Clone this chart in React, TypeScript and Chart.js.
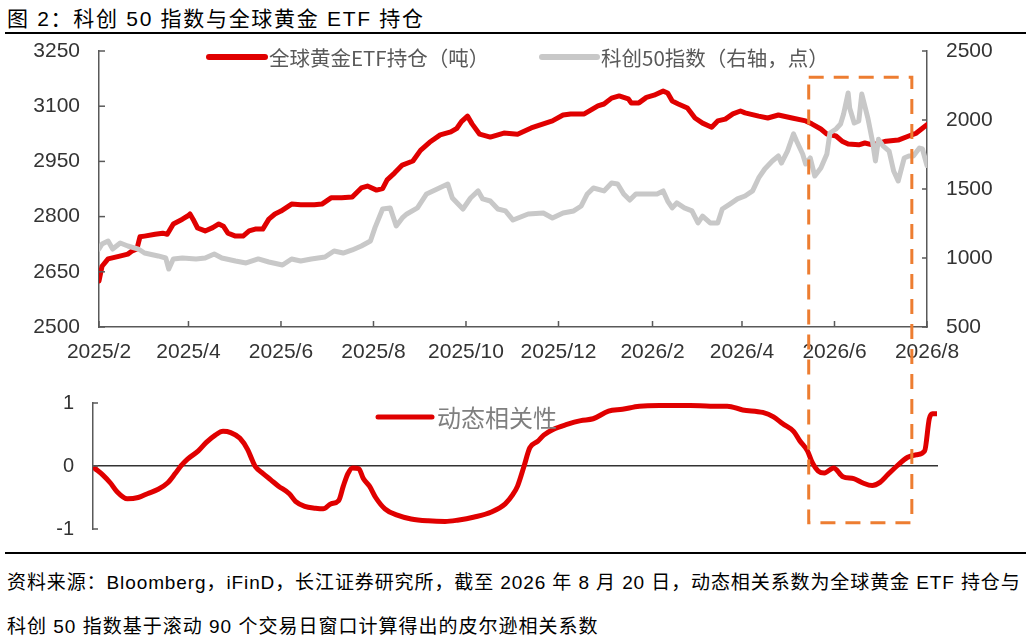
import React, { useEffect, useRef } from 'react';
import { Chart, registerables } from 'chart.js';

Chart.register(...registerables);

// ---------- text ----------
const TITLE = '图 2：科创 50 指数与全球黄金 ETF 持仓';
const NOTE_1 = '资料来源：Bloomberg，iFinD，长江证券研究所，截至 2026 年 8 月 20 日，动态相关系数为全球黄金 ETF 持仓与';
const NOTE_2 = '科创 50 指数基于滚动 90 个交易日窗口计算得出的皮尔逊相关系数';
const GOLD_LABEL = '全球黄金ETF持仓（吨）';
const KC50_LABEL = '科创50指数（右轴，点）';
const CORR_LABEL = '动态相关性';

// ---------- axis ticks ----------
// days are counted from 2025-02-20; the axis ticks fall on the 20th of every other month
const xTickLabels = ['2025/2', '2025/4', '2025/6', '2025/8', '2025/10', '2025/12', '2026/2', '2026/4', '2026/6', '2026/8'];
const leftAxisRange = [2500, 3250];
const leftAxisStep = 150;
const rightAxisRange = [500, 2500];
const rightAxisStep = 500;
const corrAxisRange = [-1, 1];

// ---------- series: global gold ETF holdings (tonnes) ----------
const goldDay = [
  0, 2, 6, 13, 19, 22, 25, 27, 30, 37, 42, 45, 49, 55, 59, 60, 62, 65, 70, 75,
  79, 82, 85, 90, 95, 99, 103, 108, 112, 116, 120, 127, 133, 142, 147, 153, 160, 167, 173, 177,
  183, 187, 190, 195, 200, 207, 212, 218, 225, 232, 236, 239, 243, 246, 251, 258, 267, 276, 285, 293,
  299, 306, 311, 320, 329, 333, 338, 343, 349, 351, 356, 361, 366, 372, 375, 378, 382, 388, 393, 398,
  404, 408, 413, 418, 423, 426, 435, 441, 448, 457, 466, 470, 476, 480, 486, 490, 494, 501, 505, 510,
  519, 527, 534, 539, 543, 546,
];
const goldTonnes = [
  2625, 2665, 2685, 2692, 2698, 2707, 2712, 2745, 2747, 2752, 2755, 2752, 2780, 2793, 2803, 2807, 2793, 2769, 2761, 2770,
  2780, 2774, 2755, 2747, 2747, 2761, 2766, 2766, 2793, 2807, 2815, 2834, 2832, 2832, 2834, 2851, 2851, 2853, 2878, 2883,
  2872, 2876, 2900, 2919, 2940, 2951, 2980, 3002, 3022, 3030, 3040, 3058, 3073, 3052, 3024, 3016, 3027, 3024, 3041, 3052,
  3060, 3076, 3079, 3079, 3101, 3106, 3122, 3128, 3120, 3109, 3109, 3124, 3130, 3141, 3136, 3114, 3106, 3095, 3068, 3054,
  3043, 3060, 3065, 3079, 3087, 3082, 3073, 3068, 3076, 3068, 3060, 3052, 3038, 3024, 3019, 3005, 2997, 2995, 3000, 2995,
  3005, 3008, 3019, 3027, 3040, 3050,
];

// ---------- series: STAR 50 index (points, right axis) ----------
const kc50Day = [
  0, 2, 6, 9, 14, 19, 26, 30, 39, 44, 46, 49, 55, 64, 70, 76, 81, 90, 97, 105,
  112, 121, 127, 133, 140, 149, 155, 161, 167, 173, 179, 182, 187, 192, 196, 200, 203, 210, 216, 223,
  230, 233, 240, 245, 250, 253, 258, 263, 268, 273, 283, 293, 299, 306, 313, 318, 322, 326, 333, 338,
  342, 346, 350, 354, 361, 368, 372, 375, 378, 381, 386, 391, 395, 398, 403, 408, 411, 416, 421, 426,
  431, 435, 439, 444, 448, 450, 454, 458, 460, 464, 466, 469, 472, 476, 480, 482, 486, 489, 491, 494,
  495, 498, 501, 503, 507, 510, 512, 514, 517, 521, 524, 527, 531, 534, 537, 541, 543, 546,
];
const kc50Points = [
  1065, 1102, 1123, 1065, 1109, 1087, 1065, 1036, 1015, 1000, 920, 993, 1000, 993, 1000, 1029, 1000, 978, 964, 993,
  971, 949, 993, 978, 993, 1007, 1051, 1036, 1058, 1087, 1123, 1220, 1355, 1363, 1232, 1290, 1319, 1363, 1464, 1500,
  1536, 1435, 1355, 1435, 1486, 1428, 1413, 1355, 1341, 1275, 1319, 1326, 1290, 1326, 1341, 1377, 1464, 1507, 1486, 1543,
  1536, 1464, 1420, 1464, 1464, 1464, 1486, 1413, 1363, 1399, 1363, 1341, 1254, 1304, 1254, 1254, 1355, 1391, 1428, 1449,
  1486, 1580, 1645, 1703, 1739, 1688, 1775, 1899, 1848, 1754, 1681, 1725, 1594, 1652, 1754, 1906, 1935, 1971, 2043, 2196,
  2087, 1978, 1993, 2188, 2014, 1848, 1703, 1860, 1812, 1775, 1630, 1558, 1725, 1739, 1739, 1797, 1790, 1670,
];

// ---------- series: 90-day rolling correlation ----------
const corrDay = [
  0, 5, 10, 14, 21, 28, 34, 41, 47, 52, 56, 60, 67, 72, 78, 83, 88, 94, 99, 102,
  104, 109, 114, 119, 126, 130, 136, 143, 148, 153, 158, 161, 164, 167, 171, 174, 178, 182, 188, 196,
  205, 216, 227, 235, 246, 257, 266, 271, 274, 278, 282, 287, 291, 297, 306, 315, 323, 333, 342, 353,
  366, 386, 399, 410, 420, 433, 440, 446, 453, 457, 462, 465, 469, 473, 479, 485, 492, 498, 504, 509,
  514, 520, 527, 533, 538, 541, 543, 546,
];
const corrValue = [
  -0.04, -0.14, -0.27, -0.4, -0.52, -0.5, -0.44, -0.37, -0.27, -0.12, 0.01, 0.11, 0.24, 0.37, 0.49, 0.55, 0.53, 0.44, 0.26, 0.09,
  -0.01, -0.12, -0.22, -0.32, -0.44, -0.56, -0.64, -0.67, -0.68, -0.6, -0.55, -0.32, -0.12, -0.03, -0.04, -0.2, -0.32, -0.5, -0.68, -0.78,
  -0.84, -0.87, -0.88, -0.86, -0.81, -0.73, -0.6, -0.45, -0.32, -0.02, 0.29, 0.39, 0.49, 0.58, 0.66, 0.72, 0.75, 0.87, 0.9, 0.95,
  0.96, 0.96, 0.95, 0.95, 0.89, 0.85, 0.78, 0.67, 0.55, 0.4, 0.24, 0.06, -0.08, -0.11, -0.03, -0.17, -0.2, -0.27, -0.31, -0.26,
  -0.14, 0.0, 0.14, 0.18, 0.24, 0.75, 0.83, 0.83,
];

// ---------- highlighted window (dashed box) ----------
const highlightDays = [468, 536];
const highlightTopPoints = 2310; // right-axis value of the box top
const highlightBottomCorr = -0.9; // correlation-axis value of the box bottom

// ---------- styles ----------
const RED = '#E00000';
const GRAY = '#C8C8C8';
const ORANGE = '#ED7D31';
const AXIS = '#595959';
const TICK_TEXT = '#333333';
const LATIN = "'Liberation Sans', Arial, 'Noto Sans CJK SC', sans-serif";
const CJK = "'Noto Sans CJK SC', 'Liberation Sans', sans-serif";

const START_UTC = Date.UTC(2025, 1, 20);
function dayOfLabel(label: string): number {
  const [y, m] = label.split('/').map(Number);
  return Math.round((Date.UTC(y, m - 1, 20) - START_UTC) / 86400000);
}
const xTickDays = xTickLabels.map(dayOfLabel);
const lastDay = xTickDays[xTickDays.length - 1];

function pts(xs: number[], ys: number[]) {
  return xs.map((x, i) => ({ x, y: ys[i] }));
}

const plainNumber = (v: any) => String(v);

const inwardTicks = {
  id: 'inwardTicks',
  afterDraw(chart: any, _args: any, opts: any) {
    const ctx = chart.ctx;
    ctx.save();
    ctx.strokeStyle = opts.color;
    ctx.lineWidth = opts.width;
    const lengths = opts.lengths || {};
    Object.keys(lengths).forEach((id) => {
      const s = chart.scales[id];
      const len = lengths[id];
      if (!s) return;
      s.ticks.forEach((t: any) => {
        const p = s.getPixelForValue(t.value);
        ctx.beginPath();
        if (s.isHorizontal()) {
          ctx.moveTo(p, s.top);
          ctx.lineTo(p, s.top - len);
        } else if (s.position === 'left') {
          ctx.moveTo(s.right, p);
          ctx.lineTo(s.right + len, p);
        } else {
          ctx.moveTo(s.left, p);
          ctx.lineTo(s.left - len, p);
        }
        ctx.stroke();
      });
    });
    ctx.restore();
  },
};

const lineLegend = {
  id: 'lineLegend',
  afterDraw(chart: any, _args: any, opts: any) {
    const ctx = chart.ctx;
    ctx.save();
    (opts.items || []).forEach((it: any) => {
      const ds = chart.data.datasets[it.dataset];
      ctx.strokeStyle = ds.borderColor;
      ctx.lineWidth = it.lineWidth;
      ctx.lineCap = 'round';
      ctx.beginPath();
      ctx.moveTo(it.x, it.y);
      ctx.lineTo(it.x + it.length, it.y);
      ctx.stroke();
      ctx.fillStyle = opts.color;
      ctx.font = `${opts.size}px ${CJK}`;
      ctx.textBaseline = 'middle';
      ctx.textAlign = 'left';
      ctx.fillText(ds.label, it.x + it.length + it.gap, it.y + 1);
    });
    ctx.restore();
  },
};

export default function App() {
  const topRef = useRef<HTMLCanvasElement>(null);
  const bottomRef = useRef<HTMLCanvasElement>(null);

  useEffect(() => {
    if (!topRef.current || !bottomRef.current) return;
    const tickFont = { family: LATIN, size: 21 };

    const top = new Chart(topRef.current, {
      type: 'line',
      data: {
        datasets: [
          {
            label: GOLD_LABEL,
            data: pts(goldDay, goldTonnes),
            borderColor: RED,
            borderWidth: 5,
            yAxisID: 'y',
            order: 1,
          },
          {
            label: KC50_LABEL,
            data: pts(kc50Day, kc50Points),
            borderColor: GRAY,
            borderWidth: 5,
            yAxisID: 'y1',
            order: 0,
          },
        ],
      },
      options: {
        responsive: false,
        animation: false,
        events: [],
        layout: { padding: { top: 51, left: 0, right: 0, bottom: 0 } },
        elements: {
          point: { radius: 0 },
          line: { tension: 0, borderJoinStyle: 'round', borderCapStyle: 'round' },
        },
        plugins: {
          legend: { display: false },
          tooltip: { enabled: false },
          lineLegend: {
            color: '#595959',
            size: 20.5,
            items: [
              { dataset: 0, x: 209, y: 57, length: 56, gap: 4, lineWidth: 6 },
              { dataset: 1, x: 542, y: 57, length: 55, gap: 4, lineWidth: 6 },
            ],
          },
          inwardTicks: { color: AXIS, width: 1.5, lengths: { x: 6, y: 6, y1: 5 } },
        } as any,
        scales: {
          x: {
            type: 'linear',
            min: 0,
            max: lastDay,
            afterBuildTicks: (s: any) => {
              s.ticks = xTickDays.map((v) => ({ value: v }));
            },
            afterFit: (s: any) => {
              s.height = 53;
            },
            ticks: {
              callback: (_v: any, i: number) => xTickLabels[i],
              autoSkip: false,
              maxRotation: 0,
              minRotation: 0,
              padding: 13,
              font: tickFont,
              color: TICK_TEXT,
            },
            grid: { display: false, drawTicks: false },
            border: { display: true, color: AXIS, width: 1.5 },
          },
          y: {
            position: 'left',
            min: leftAxisRange[0],
            max: leftAxisRange[1],
            afterFit: (s: any) => {
              s.width = 99;
            },
            ticks: { stepSize: leftAxisStep, padding: 19, font: tickFont, color: TICK_TEXT, callback: plainNumber },
            grid: { display: false, drawTicks: false },
            border: { display: true, color: AXIS, width: 1.5 },
          },
          y1: {
            position: 'right',
            min: rightAxisRange[0],
            max: rightAxisRange[1],
            afterFit: (s: any) => {
              s.width = 99;
            },
            ticks: { stepSize: rightAxisStep, padding: 19, font: tickFont, color: TICK_TEXT, callback: plainNumber },
            grid: { display: false, drawTicks: false },
            border: { display: true, color: AXIS, width: 1.5 },
          },
        } as any,
      },
      plugins: [lineLegend, inwardTicks],
    } as any);

    const highlightBox = {
      id: 'highlightBox',
      afterDraw(chart: any) {
        const ctx = chart.ctx;
        const x1 = top.scales.x.getPixelForValue(highlightDays[0]);
        const x2 = top.scales.x.getPixelForValue(highlightDays[1]);
        const y1 = top.scales.y1.getPixelForValue(highlightTopPoints);
        const y2 = chart.scales.y.getPixelForValue(highlightBottomCorr);
        ctx.save();
        ctx.strokeStyle = ORANGE;
        ctx.lineWidth = 3;
        ctx.setLineDash([15, 10]);
        ctx.strokeRect(x1, y1, x2 - x1, y2 - y1);
        ctx.restore();
      },
    };

    const bottom = new Chart(bottomRef.current, {
      type: 'line',
      data: {
        datasets: [
          {
            label: CORR_LABEL,
            data: pts(corrDay, corrValue),
            borderColor: RED,
            borderWidth: 5,
            cubicInterpolationMode: 'monotone',
          },
        ],
      },
      options: {
        responsive: false,
        animation: false,
        events: [],
        layout: { padding: { top: 403, left: 0, right: 89, bottom: 26 } },
        elements: {
          point: { radius: 0 },
          line: { borderJoinStyle: 'round', borderCapStyle: 'round' },
        },
        plugins: {
          legend: { display: false },
          tooltip: { enabled: false },
          lineLegend: {
            color: '#7F7F7F',
            size: 24,
            items: [{ dataset: 0, x: 378, y: 417, length: 54, gap: 5, lineWidth: 5 }],
          },
          inwardTicks: { color: AXIS, width: 1.5, lengths: { y: 5 } },
        } as any,
        scales: {
          x: {
            type: 'linear',
            min: -1.3,
            max: lastDay,
            position: { y: 0 },
            ticks: { display: false },
            grid: { display: false, drawTicks: false },
            border: { display: true, color: '#333333', width: 1.5 },
          },
          y: {
            position: 'left',
            min: corrAxisRange[0],
            max: corrAxisRange[1],
            afterFit: (s: any) => {
              s.width = 93;
            },
            ticks: { stepSize: 1, padding: 19, font: { family: LATIN, size: 20 }, color: TICK_TEXT, callback: plainNumber },
            grid: { display: false, drawTicks: false },
            border: { display: true, color: AXIS, width: 1.5 },
          },
        } as any,
      },
      plugins: [lineLegend, inwardTicks, highlightBox],
    } as any);

    return () => {
      bottom.destroy();
      top.destroy();
    };
  }, []);

  const ruleStyle = (topPx: number): React.CSSProperties => ({
    position: 'absolute',
    left: 5,
    top: topPx,
    width: 1021,
    height: 2,
    background: '#000',
  });

  return (
    <div style={{ position: 'absolute', left: 0, top: 0, width: 1026, height: 643, background: '#fff', overflow: 'hidden' }}>
      <div
        style={{
          position: 'absolute',
          left: 7,
          top: 6,
          fontFamily: LATIN,
          fontSize: 21,
          lineHeight: '26px',
          letterSpacing: '1.7px',
          whiteSpace: 'nowrap',
          color: '#000',
        }}
      >
        {TITLE}
      </div>
      <div style={ruleStyle(32)} />
      <canvas ref={topRef} width={1026} height={380} style={{ position: 'absolute', left: 0, top: 0, display: 'block' }} />
      <canvas
        ref={bottomRef}
        width={1026}
        height={560}
        style={{ position: 'absolute', left: 0, top: 0, display: 'block', pointerEvents: 'none' }}
      />
      <div style={ruleStyle(552)} />
      <div
        style={{
          position: 'absolute',
          left: 7,
          top: 571,
          fontFamily: LATIN,
          fontSize: 19,
          lineHeight: '24px',
          letterSpacing: '0.9px',
          whiteSpace: 'nowrap',
          color: '#000',
        }}
      >
        {NOTE_1}
      </div>
      <div
        style={{
          position: 'absolute',
          left: 7,
          top: 615,
          fontFamily: LATIN,
          fontSize: 19,
          lineHeight: '24px',
          letterSpacing: '1px',
          whiteSpace: 'nowrap',
          color: '#000',
        }}
      >
        {NOTE_2}
      </div>
    </div>
  );
}
